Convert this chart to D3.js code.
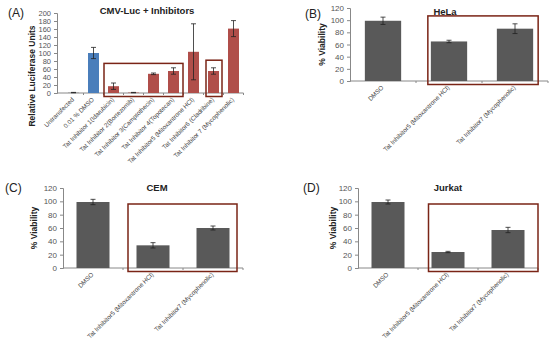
<!DOCTYPE html>
<html>
<head>
<meta charset="utf-8">
<script src="https://cdn.jsdelivr.net/npm/d3@7"></script>
<style>
  body { margin: 0; background: #fff; }
  svg { font-family: "Liberation Sans", Arial, sans-serif; }
</style>
</head>
<body>
<svg width="550" height="344"></svg>
<script>
const lucCategories = ["Untransfected", "0.01 % DMSO", "Tat Inhibitor 1(Idarubicin)", "Tat Inhibitor 2(Bortezomib)",
    "Tat Inhibitor 3(Camptothecin)", "Tat Inhibitor 4(Topotecan)", "Tat Inhibitor5 (Mitoxantrone HCl)",
    "Tat Inhibitor6 (Cladribine)", "Tat Inhibitor 7 (Mycophenolic)"];
const lucValues = [1, 100, 17, 1, 48, 55, 103, 55, 161];
const lucErrors = [0.5, 14, 8, 0.5, 2, 8, 70, 8, 20];
const lucTicks = [0, 20, 40, 60, 80, 100, 120, 140, 160, 180, 200];

const viaCategories = ["DMSO", "Tat Inhibitor5 (Mitoxantrone HCl)", "Tat Inhibitor7 (Mycophenolic)"];
const helaValues = [99, 65, 86];
const helaErrors = [6, 2, 8];
const cemValues = [99, 34, 60];
const cemErrors = [4, 4, 3];
const jurkatValues = [99, 24, 57];
const jurkatErrors = [3, 1, 4];
const viaTicks = [0, 20, 40, 60, 80, 100, 120];

const svg = d3.select('svg');
const boxColor = '#7a2416';

function drawPanel(p) {
    const g = svg.append('g');
    const x = d3.scaleBand().domain(p.categories).range([p.x0, p.x1]).paddingInner(p.pad).paddingOuter(p.pad / 2);
    const y = d3.scaleLinear().domain([0, p.max]).range([p.y0, p.y1]);
    const axisX = p.axisX || p.x0;

    // y axis
    const yAxis = g.append('g')
        .attr('transform', `translate(${axisX},0)`)
        .call(d3.axisLeft(y).tickValues(p.ticks).tickSize(3).tickPadding(3));
    yAxis.select('.domain').attr('stroke', '#888');
    yAxis.selectAll('.tick line').attr('stroke', '#888');
    yAxis.selectAll('text').attr('font-size', p.tickFont).attr('fill', '#555');

    // x axis line
    g.append('line')
        .attr('x1', axisX).attr('x2', p.x1)
        .attr('y1', p.y0).attr('y2', p.y0)
        .attr('stroke', '#888');

    g.selectAll('.xtick')
        .data(d3.range(1, p.categories.length + 1))
        .enter().append('line')
        .attr('x1', i => p.x0 + i * (p.x1 - p.x0) / p.categories.length)
        .attr('x2', i => p.x0 + i * (p.x1 - p.x0) / p.categories.length)
        .attr('y1', p.y0).attr('y2', p.y0 + 2)
        .attr('stroke', '#888');

    // bars
    g.selectAll('.bar')
        .data(p.values)
        .enter().append('rect')
        .attr('x', (d, i) => x(p.categories[i]))
        .attr('width', x.bandwidth())
        .attr('y', d => y(d))
        .attr('height', d => p.y0 - y(d))
        .attr('fill', (d, i) => p.colors ? p.colors[i] : '#595959');

    // error bars
    const cap = 2.5;
    p.values.forEach((v, i) => {
        const cx = x(p.categories[i]) + x.bandwidth() / 2;
        const e = p.errors[i];
        g.append('line').attr('x1', cx).attr('x2', cx)
            .attr('y1', y(v - e)).attr('y2', y(v + e))
            .attr('stroke', '#222').attr('stroke-width', 0.8);
        [v - e, v + e].forEach(w => {
            g.append('line').attr('x1', cx - cap).attr('x2', cx + cap)
                .attr('y1', y(w)).attr('y2', y(w))
                .attr('stroke', '#222').attr('stroke-width', 0.8);
        });
    });

    // rotated x labels
    g.selectAll('.xlab')
        .data(p.categories)
        .enter().append('text')
        .attr('transform', d => `translate(${x(d) + x.bandwidth() / 2 + 1},${p.y0 + 7}) rotate(-45)`)
        .attr('text-anchor', 'end')
        .attr('font-size', 6.3)
        .attr('fill', '#444')
        .text(d => d);

    // title
    g.append('text')
        .attr('x', p.titleX).attr('y', p.titleY)
        .attr('text-anchor', 'middle')
        .attr('font-size', 9.5).attr('font-weight', 'bold')
        .attr('fill', '#222')
        .text(p.title);

    // panel letter
    g.append('text')
        .attr('x', p.letterX).attr('y', p.letterY)
        .attr('font-size', 12)
        .attr('fill', '#222')
        .text(p.letter);

    // y label
    g.append('text')
        .attr('transform', `translate(${p.ylabX},${p.ylabY || (p.y0 + p.y1) / 2}) rotate(-90)`)
        .attr('text-anchor', 'middle')
        .attr('font-size', p.ylabFont).attr('font-weight', 'bold')
        .attr('fill', '#222')
        .text(p.ylab);

    // highlight boxes
    (p.boxes || []).forEach(b => {
        const bx0 = x(p.categories[b.from]) - b.left;
        const bx1 = x(p.categories[b.to]) + x.bandwidth() + b.right;
        g.append('rect')
            .attr('x', bx0).attr('y', y(b.top))
            .attr('width', bx1 - bx0).attr('height', p.y0 + 3.5 - y(b.top))
            .attr('fill', 'none')
            .attr('stroke', boxColor).attr('stroke-width', 1.5);
    });
}

drawPanel({
    categories: lucCategories, values: lucValues, errors: lucErrors, ticks: lucTicks, max: 200,
    axisX: 57, x0: 63.5, x1: 243.5, y0: 93, y1: 13, pad: 0.45, tickFont: 7.5,
    colors: ['#8a8a8a', '#4a7ebb', '#b04e4a', '#b04e4a', '#b04e4a', '#b04e4a', '#b04e4a', '#b04e4a', '#b04e4a'],
    title: 'CMV-Luc + Inhibitors', titleX: 147, titleY: 14,
    letter: '(A)', letterX: 8, letterY: 17,
    ylab: 'Relative Luciferase Units', ylabX: 35, ylabY: 76, ylabFont: 8.5,
    boxes: [{from: 2, to: 5, left: 4, right: 4, top: 74}, {from: 7, to: 7, left: 2, right: 3, top: 82}]
});

drawPanel({
    categories: viaCategories, values: helaValues, errors: helaErrors, ticks: viaTicks, max: 120,
    x0: 350, x1: 548, y0: 81, y1: 8, pad: 0.45, tickFont: 8,
    title: 'HeLa', titleX: 445, titleY: 15,
    letter: '(B)', letterX: 305, letterY: 18,
    ylab: '% Viability', ylabX: 325, ylabFont: 8.5,
    boxes: [{from: 1, to: 2, left: 3, right: 5, top: 107}]
});

drawPanel({
    categories: viaCategories, values: cemValues, errors: cemErrors, ticks: viaTicks, max: 120,
    x0: 63, x1: 243, y0: 268, y1: 188, pad: 0.45, tickFont: 8,
    title: 'CEM', titleX: 157, titleY: 191,
    letter: '(C)', letterX: 5, letterY: 192,
    ylab: '% Viability', ylabX: 37, ylabFont: 8.5,
    boxes: [{from: 1, to: 2, left: 8.5, right: 7.5, top: 96}]
});

drawPanel({
    categories: viaCategories, values: jurkatValues, errors: jurkatErrors, ticks: viaTicks, max: 120,
    x0: 358, x1: 538, y0: 268, y1: 188, pad: 0.45, tickFont: 8,
    title: 'Jurkat', titleX: 448, titleY: 191,
    letter: '(D)', letterX: 303, letterY: 192,
    ylab: '% Viability', ylabX: 336, ylabFont: 8.5,
    boxes: [{from: 1, to: 2, left: 3, right: 13.5, top: 96}]
});
</script>
</body>
</html>
